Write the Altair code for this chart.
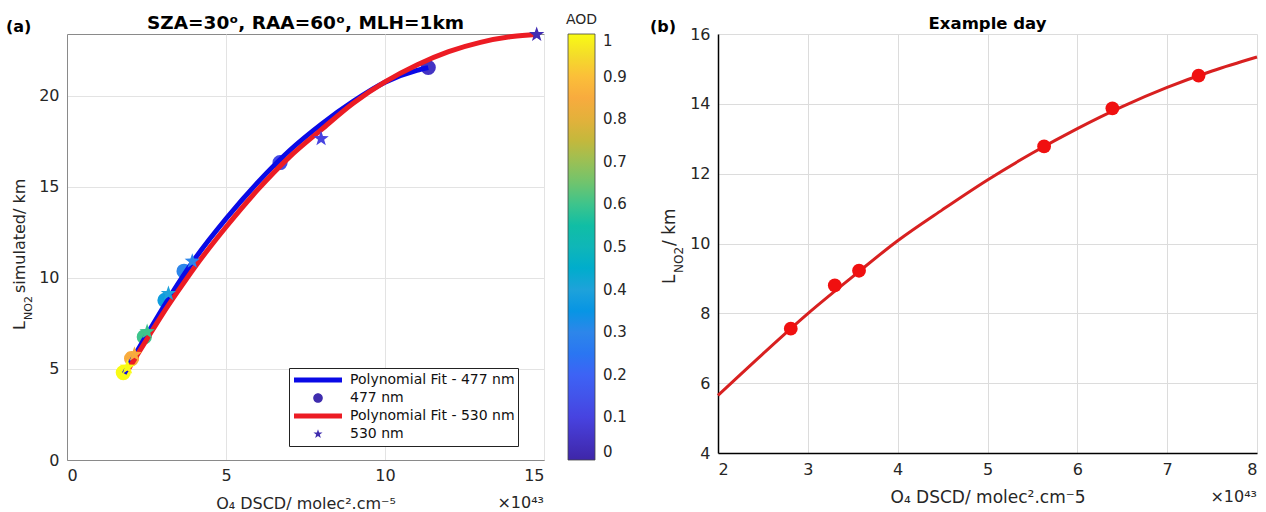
import altair as alt
import pandas as pd

FONT = "DejaVu Sans"

# ---------------- Panel (a) data ----------------
x477 = [1.77, 2.03, 2.43, 3.08, 3.68, 6.70, 11.36]
y477 = [4.80, 5.57, 6.76, 8.77, 10.37, 16.34, 21.56]
aod477 = [1.0, 0.85, 0.6, 0.38, 0.3, 0.12, 0.05]

x530 = [1.90, 2.12, 2.52, 3.19, 3.94, 7.99, 14.77]
y530 = [5.10, 5.80, 7.05, 9.14, 10.92, 17.65, 23.37]
aod530 = [1.0, 0.85, 0.6, 0.4, 0.3, 0.1, 0.02]

# polynomial fit curves
fit477_x = [1.8, 2.5, 3.0, 3.5, 4.0, 5.0, 6.0, 7.0, 8.0, 9.0, 10.0, 11.0, 11.36]
fit477_y = [4.75, 6.85, 8.3, 9.7, 11.0, 13.25, 15.25, 17.0, 18.45, 19.7, 20.75, 21.4, 21.55]
fit530_x = [1.9, 2.5, 3.0, 3.5, 4.0, 5.0, 6.0, 7.0, 8.0, 9.0, 10.0, 11.0, 12.0, 13.0, 14.0, 14.77]
fit530_y = [4.9, 6.6, 8.0, 9.3, 10.55, 12.8, 14.85, 16.65, 18.15, 19.6, 20.77, 21.7, 22.43,
            22.94, 23.26, 23.37]

x_ticks_a = [0, 5, 10, 15]
y_ticks_a = [0, 5, 10, 15, 20]
aod_ticks = [0, 0.1, 0.2, 0.3, 0.4, 0.5, 0.6, 0.7, 0.8, 0.9, 1.0]

parula_stops = [0, 0.1, 0.2, 0.3, 0.4, 0.5, 0.6, 0.7, 0.75, 0.8, 0.85, 0.9, 0.95, 1.0]
parula_colors = ["#3e26a8", "#4743e0", "#3d63f5", "#2d86ea", "#1ea2da", "#0fb6b8",
                 "#3dc48c", "#9ac055", "#c4b83c", "#e3b13b", "#f8ab3e", "#fbbf39",
                 "#f4dc2a", "#f9fb14"]

legend_labels = ["Polynomial Fit - 477 nm", "477 nm", "Polynomial Fit - 530 nm", "530 nm"]

# ---------------- Panel (b) data ----------------
xb = [2.81, 3.30, 3.57, 5.63, 6.39, 7.35]
yb = [7.56, 8.80, 9.22, 12.78, 13.87, 14.81]
fitb_x = [2.0, 2.5, 3.0, 3.5, 4.0, 4.5, 5.0, 5.5, 6.0, 6.5, 7.0, 7.5, 8.0]
fitb_y = [5.65, 6.84, 7.99, 9.05, 10.08, 10.97, 11.82, 12.59, 13.29, 13.92, 14.47, 14.94, 15.34]
x_ticks_b = [2, 3, 4, 5, 6, 7, 8]
y_ticks_b = [4, 6, 8, 10, 12, 14, 16]

BLUE = "#0a0ae6"
RED = "#ec1c24"
PURPLE = "#3f2dae"
TXT = "#262626"
FRAME = "#8a8a8a"

STAR = ("M0,-1L0.235,-0.324L0.951,-0.309L0.38,0.124L0.588,0.809L0,0.4L-0.588,0.809"
        "L-0.38,0.124L-0.951,-0.309L-0.235,-0.324Z")
LINE_PATH = "M-1,-0.1H1V0.1H-1Z"
CIRCLE_PATH = "M-0.2,0A0.2,0.2 0 1,0 0.2,0A0.2,0.2 0 1,0 -0.2,0Z"
STAR_SMALL = ("M0,-0.2L0.047,-0.065L0.19,-0.062L0.076,0.025L0.118,0.162L0,0.08"
              "L-0.118,0.162L-0.076,0.025L-0.19,-0.062L-0.047,-0.065Z")

WA, HA = 477, 426
WB, HB = 539, 419


def label(text, x, y, size, weight="normal", angle=0, align="left",
          baseline="alphabetic", color=TXT, opacity=1):
    return alt.Chart(pd.DataFrame({"t": [text]})).mark_text(
        align=align, baseline=baseline, fontSize=size, fontWeight=weight,
        angle=angle, font=FONT, color=color, opacity=opacity
    ).encode(text="t:N", x=alt.value(x), y=alt.value(y))


# ---------------- Panel (a) ----------------
dfa477 = pd.DataFrame({"x": x477, "y": y477, "aod": aod477})
dfa530 = pd.DataFrame({"x": x530, "y": y530, "aod": aod530})
dff477 = pd.DataFrame({"x": fit477_x, "y": fit477_y})
dff530 = pd.DataFrame({"x": fit530_x, "y": fit530_y})
dfleg = pd.DataFrame({"label": legend_labels})

xA = alt.X("x:Q", scale=alt.Scale(domain=[0, 15], nice=False, zero=False),
           axis=alt.Axis(values=x_ticks_a, title="O₄ DSCD/ molec².cm⁻⁵", grid=True,
                         ticks=False, domain=True, domainColor=FRAME, domainWidth=1,
                         labelFontSize=16, titleFontSize=16,
                         labelPadding=7, titlePadding=12, labelColor=TXT, titleColor=TXT,
                         gridColor="#e3e3e3", labelFont=FONT, titleFont=FONT,
                         titleFontWeight="normal"))
yA = alt.Y("y:Q", scale=alt.Scale(domain=[0, 23.4], nice=False, zero=False),
           axis=alt.Axis(values=y_ticks_a, title=None, grid=True, ticks=False,
                         domain=True, domainColor=FRAME, domainWidth=1,
                         labelFontSize=16, labelPadding=8,
                         labelColor=TXT, gridColor="#e3e3e3", labelFont=FONT))

color_enc = alt.Color(
    "aod:Q",
    scale=alt.Scale(domain=parula_stops, range=parula_colors),
    legend=alt.Legend(orient="none", legendX=WA + 24, legendY=0, direction="vertical",
                      gradientLength=HA, gradientThickness=27, title=None,
                      values=aod_ticks, format=".1~f", labelFontSize=15, labelOffset=8,
                      labelBaseline="middle", labelOverlap=False,
                      gradientStrokeColor="#444444", gradientStrokeWidth=0.8,
                      labelFont=FONT, labelColor=TXT, padding=0),
)

circles = alt.Chart(dfa477).mark_circle(size=230, opacity=1).encode(x=xA, y=yA, color=color_enc)
stars = alt.Chart(dfa530).mark_point(shape=STAR, filled=True, size=260, opacity=1,
                                     strokeWidth=0).encode(x=xA, y=yA, color=color_enc)
fit477 = alt.Chart(dff477).mark_line(color=BLUE, strokeWidth=5, interpolate="monotone").encode(
    x=xA, y=yA)
fit530 = alt.Chart(dff530).mark_line(color=RED, strokeWidth=5, interpolate="monotone").encode(
    x=xA, y=yA)

LEG = alt.Legend(orient="none", legendX=222, legendY=334, title=None, symbolSize=2304,
                 clipHeight=18, rowPadding=0, padding=3, strokeColor="#222222",
                 fillColor="white", symbolOffset=2, labelOffset=8, labelFontSize=14,
                 labelFont=FONT, labelColor="#111111", symbolStrokeWidth=0,
                 symbolOpacity=1, labelLimit=400)
legend_layer = alt.Chart(dfleg).mark_point(filled=True, opacity=0, strokeWidth=0).encode(
    x=alt.value(0), y=alt.value(0),
    fill=alt.Fill("label:N", scale=alt.Scale(domain=legend_labels,
                                             range=[BLUE, PURPLE, RED, PURPLE]), legend=LEG),
    shape=alt.Shape("label:N", scale=alt.Scale(domain=legend_labels,
                                               range=[LINE_PATH, CIRCLE_PATH, LINE_PATH, STAR_SMALL]),
                    legend=LEG),
)

panel_a = alt.layer(
    circles, fit477, fit530, stars, legend_layer,
    label("Xg", 0, -11, 22, baseline="middle", opacity=0),
    label("(a)", -61, -2, 16, weight="bold", color="#000000"),
    label("SZA=30ᵒ, RAA=60ᵒ, MLH=1km", WA / 2, -5, 18.5, weight="bold", align="center",
          color="#000000"),
    label("AOD", WA + 24 + 13.5, -10, 14, align="center"),
    label("L", -42, 296, 16, angle=270),
    label("NO2", -35, 286, 11, angle=270),
    label("simulated/ km", -42, 259, 16, angle=270),
    label("×10⁴³", WA, 474, 16, align="right"),
).properties(width=WA, height=HA, view=alt.ViewBackground(stroke=FRAME, strokeWidth=1))

# ---------------- Panel (b) ----------------
dfb = pd.DataFrame({"x": xb, "y": yb})
dffb = pd.DataFrame({"x": fitb_x, "y": fitb_y})
xB = alt.X("x:Q", scale=alt.Scale(domain=[2, 8], nice=False, zero=False),
           axis=alt.Axis(values=x_ticks_b, title="O₄ DSCD/ molec².cm⁻5", grid=True,
                         ticks=False, domain=True, domainColor="#000000", domainWidth=1.5,
                         labelFontSize=16, titleFontSize=17, labelPadding=8, titlePadding=12,
                         labelColor=TXT, titleColor=TXT, gridColor="#dcdcdc",
                         labelFont=FONT, titleFont=FONT, titleFontWeight="normal"))
yB = alt.Y("y:Q", scale=alt.Scale(domain=[4, 16], nice=False, zero=False),
           axis=alt.Axis(values=y_ticks_b, title=None, grid=True, ticks=False, domain=True,
                         domainColor="#000000", domainWidth=1.5, labelFontSize=16,
                         labelPadding=8, labelColor=TXT, gridColor="#dcdcdc", labelFont=FONT))

fitb = alt.Chart(dffb).mark_line(color="#d82020", strokeWidth=3, interpolate="monotone").encode(
    x=xB, y=yB)
ptsb = alt.Chart(dfb).mark_circle(size=190, color="#f01010", opacity=1).encode(x=xB, y=yB)

panel_b = alt.layer(
    fitb, ptsb,
    label("Xg", 0, -11, 22, baseline="middle", opacity=0),
    label("(b)", -68, -2, 16, weight="bold", color="#000000"),
    label("Example day", WB / 2, -5, 16.5, weight="bold", align="center", color="#000000"),
    label("L", -43, 250, 17, angle=270),
    label("NO2", -35, 239, 12, angle=270),
    label("/ km", -43, 212, 17, angle=270),
    label("×10⁴³", WB, 468, 16, align="right"),
).properties(width=WB, height=HB, view=alt.ViewBackground(stroke=None))

chart = alt.hconcat(panel_a, panel_b, spacing=52).properties(
    padding={"left": 5, "top": 11, "right": 0, "bottom": 0},
    background="white",
).configure_view(stroke=FRAME)

chart.save("out.html", embed_options={"renderer": "svg", "actions": False})
